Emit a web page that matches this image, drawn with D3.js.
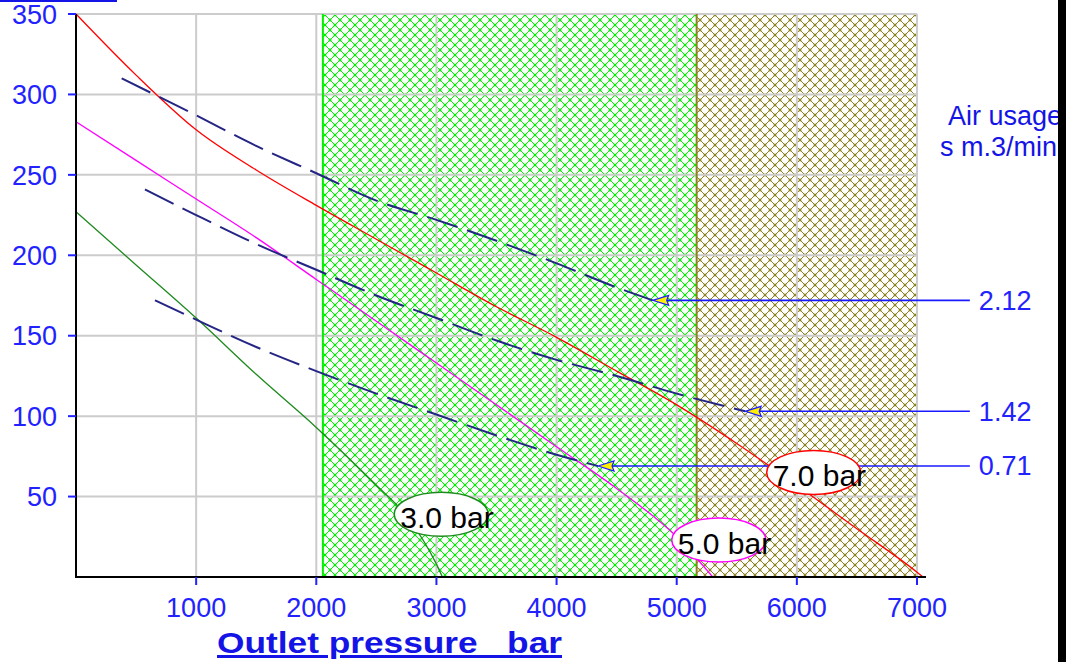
<!DOCTYPE html>
<html>
<head>
<meta charset="utf-8">
<script src="https://d3js.org/d3.v7.min.js"></script>
<style>
  body { margin: 0; background: #fff; overflow: hidden; }
  text { font-family: "Liberation Sans", Arial, sans-serif; }
  .tick-label { fill: #2222ff; font-size: 27px; }
  .grid { stroke: #cccccc; stroke-width: 2; }
  .usage-line { fill: none; stroke: #252585; stroke-width: 2; stroke-dasharray: 32,10; }
  .bar-label { fill: #000; font-size: 30px; }
</style>
</head>
<body>
<script>
// axis ticks
var xTicks = [1000, 2000, 3000, 4000, 5000, 6000, 7000];
var yTicks = [50, 100, 150, 200, 250, 300, 350];

// outlet pressure curves [flow, pressure]
var bar7 = [[0,350],[500,312],[1000,278],[1500,253],[2000,231],[2500,210],[3000,189],[3500,168],
            [4000,149],[4500,128],[5000,107],[5500,83],[6000,57],[6500,30],[7000,3],[7050,0]];
var bar5 = [[0,283],[500,259],[1000,235],[1500,211],[2000,185],[2500,159],[3000,133],[3500,107],
            [4000,81],[4500,55],[5000,25],[5300,0]];
var bar3 = [[0,227],[500,194],[1000,161],[1500,126],[2000,93],[2500,57],[2750,38],[3000,8],[3050,0]];

// air usage lines
var usage212 = [[380,310],[1000,287],[1500,268],[2000,251],[2500,234],[3000,222],[3500,209],
                [4000,195],[4500,180],[4800,172]];
var usage142 = [[574,241],[1000,225],[1500,207],[2000,191],[2500,175],[3000,161],[3500,147],
                [4000,135],[4500,125],[5000,114],[5570,103]];
var usage071 = [[657,172],[1000,160],[1500,143],[2000,128],[2500,114],[3000,101],[3500,88],
                [4000,76],[4345,69]];
var usageNames = ["2.12", "1.42", "0.71"];

// shaded zones
var zoneFrom = [2055, 5166];
var zoneTo = [5166, 7000];

// curve labels
var barNames = ["7.0 bar", "5.0 bar", "3.0 bar"];
var barLabelAt = [[6140,65],[5350,23],[3040,39]];

var width = 1066, height = 662;
var x = d3.scaleLinear().domain([0, 7000]).range([76, 917]);
var y = d3.scaleLinear().domain([0, 350]).range([577, 14]);

var svg = d3.select("body").append("svg")
    .attr("width", width).attr("height", height);

svg.append("rect").attr("width", width).attr("height", height).attr("fill", "#fff");

// cross hatch patterns
var defs = svg.append("defs");
function hatch(id, color) {
    var s = 10, h = s / 2;
    var p = defs.append("pattern")
        .attr("id", id)
        .attr("patternUnits", "userSpaceOnUse")
        .attr("width", s).attr("height", s);
    p.append("path")
        .attr("d", "M-2,2l4,-4M0," + s + "l" + s + ",-" + s + "M" + (s - 2) + "," + (s + 2) + "l4,-4" +
                   "M-2," + (s - 2) + "l4,4M0,0l" + s + "," + s + "M" + (s - 2) + ",-2l4,4")
        .attr("fill", "none")
        .attr("shape-rendering", "crispEdges")
        .attr("stroke", color).attr("stroke-width", 1.2);
    [[h,h],[0,0],[s,0],[0,s],[s,s]].forEach(function(c) {
        p.append("rect")
            .attr("x", c[0] - 1.3).attr("y", c[1] - 1.3)
            .attr("width", 2.6).attr("height", 2.6)
            .attr("fill", color);
    });
}
hatch("hatchGreen", "#00f000");
hatch("hatchOlive", "#8c8220");

var zoneFills = ["url(#hatchGreen)", "url(#hatchOlive)"];
var zoneEdges = ["#00f000", "#8c8220"];
zoneFrom.forEach(function(d, i) {
    svg.append("rect")
        .attr("x", x(d)).attr("y", y(350))
        .attr("width", x(zoneTo[i]) - x(d))
        .attr("height", y(0) - y(350))
        .attr("fill", zoneFills[i]);
});

// grid
svg.selectAll(".gx").data(xTicks).enter().append("line")
    .attr("class", "grid")
    .attr("x1", function(d) { return x(d); }).attr("x2", function(d) { return x(d); })
    .attr("y1", y(0)).attr("y2", y(350));
svg.selectAll(".gy").data(yTicks).enter().append("line")
    .attr("class", "grid")
    .attr("x1", x(0)).attr("x2", x(7000))
    .attr("y1", function(d) { return y(d); }).attr("y2", function(d) { return y(d); });

// zone edges
zoneFrom.forEach(function(d, i) {
    svg.append("line")
        .attr("x1", x(d)).attr("x2", x(d))
        .attr("y1", y(0)).attr("y2", y(350))
        .attr("stroke", zoneEdges[i]).attr("stroke-width", 2);
});

var line = d3.line()
    .x(function(d) { return x(d[0]); })
    .y(function(d) { return y(d[1]); })
    .curve(d3.curveMonotoneX);

// pressure curves
var barColors = ["#ff0000", "#ff00ff", "#1e8a1e"];
[bar7, bar5, bar3].forEach(function(c, i) {
    svg.append("path").datum(c)
        .attr("d", line)
        .attr("fill", "none")
        .attr("stroke", barColors[i])
        .attr("stroke-width", 1.3);
});

// air usage dashed lines + arrows
var arrowEnd = 7440;
[usage212, usage142, usage071].forEach(function(c, i) {
    svg.append("path").datum(c)
        .attr("class", "usage-line")
        .attr("d", line);
    var tip = c[c.length - 1];
    var tx = x(tip[0]), ty = y(tip[1]);
    svg.append("line")
        .attr("x1", tx + 14).attr("x2", x(arrowEnd))
        .attr("y1", ty).attr("y2", ty)
        .attr("stroke", "#1a1aff").attr("stroke-width", 1.6);
    svg.append("path")
        .attr("d", "M" + tx + "," + ty + "L" + (tx + 16) + "," + (ty - 5) +
              "L" + (tx + 14) + "," + ty + "L" + (tx + 16) + "," + (ty + 5) + "Z")
        .attr("fill", "#ffee00")
        .attr("stroke", "#1a1aff").attr("stroke-width", 1.2);
    svg.append("text")
        .attr("class", "tick-label")
        .attr("x", x(arrowEnd) + 9).attr("y", ty)
        .attr("dy", "0.35em")
        .text(usageNames[i]);
});

// curve labels
barLabelAt.forEach(function(d, i) {
    var cx = x(d[0]), cy = y(d[1]);
    svg.append("ellipse")
        .attr("cx", cx).attr("cy", cy)
        .attr("rx", 47).attr("ry", 22)
        .attr("fill", "#fff")
        .attr("stroke", barColors[i]).attr("stroke-width", 1.5);
    svg.append("text")
        .attr("class", "bar-label")
        .attr("x", cx - 41).attr("y", cy + 14)
        .text(barNames[i]);
});

// axes
svg.append("line")
    .attr("x1", x(0)).attr("x2", x(0))
    .attr("y1", y(350)).attr("y2", y(0) + 1)
    .attr("stroke", "#000").attr("stroke-width", 2);
svg.append("line")
    .attr("x1", x(0)).attr("x2", x(7075))
    .attr("y1", y(0)).attr("y2", y(0))
    .attr("stroke", "#000").attr("stroke-width", 2);

svg.selectAll(".ty").data(yTicks).enter().append("line")
    .attr("x1", x(0) - 8).attr("x2", x(0))
    .attr("y1", function(d) { return y(d); }).attr("y2", function(d) { return y(d); })
    .attr("stroke", "#2222ff").attr("stroke-width", 2);
svg.selectAll(".tyl").data(yTicks).enter().append("text")
    .attr("class", "tick-label")
    .attr("x", 57).attr("y", function(d) { return y(d); })
    .attr("dy", "0.36em")
    .attr("text-anchor", "end")
    .text(function(d) { return d; });

svg.selectAll(".tx").data(xTicks).enter().append("line")
    .attr("x1", function(d) { return x(d); }).attr("x2", function(d) { return x(d); })
    .attr("y1", y(0)).attr("y2", y(0) + 8)
    .attr("stroke", "#2222ff").attr("stroke-width", 2);
svg.selectAll(".txl").data(xTicks).enter().append("text")
    .attr("class", "tick-label")
    .attr("x", function(d) { return x(d); }).attr("y", 617)
    .attr("text-anchor", "middle")
    .text(function(d) { return d; });

// axis title
svg.append("text")
    .attr("x", 217).attr("y", 653)
    .attr("textLength", 345).attr("lengthAdjust", "spacingAndGlyphs")
    .style("white-space", "pre")
    .style("font-size", "30px").style("font-weight", "bold")
    .style("text-decoration", "underline")
    .attr("fill", "#1414e6")
    .text("Outlet pressure   bar");

// right side title (cut off by the bar)
svg.append("text").attr("x", 948).attr("y", 125)
    .attr("fill", "#1414e6").style("font-size", "27px").text("Air usage");
svg.append("text").attr("x", 940).attr("y", 156)
    .attr("fill", "#1414e6").style("font-size", "27px").text("s m.3/min");

// top-left underline remnant
svg.append("line")
    .attr("x1", 0).attr("x2", 117).attr("y1", 1).attr("y2", 1)
    .attr("stroke", "#1414e6").attr("stroke-width", 2);

// right black bar
svg.append("rect")
    .attr("x", 1058).attr("y", 0).attr("width", 8).attr("height", height)
    .attr("fill", "#000");
</script>
</body>
</html>
